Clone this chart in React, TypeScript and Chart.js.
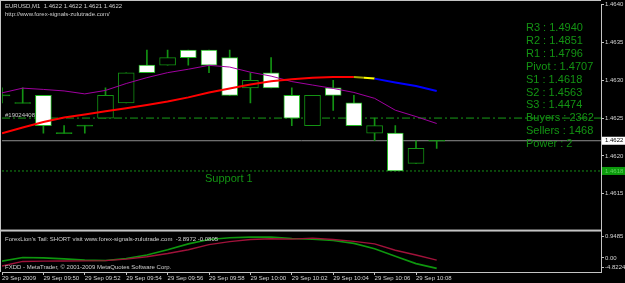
import React, { useEffect, useRef } from "react";
import { Chart, registerables } from "chart.js";

Chart.register(...registerables);

// ---------- data ----------
const symbolTitle = "EURUSD,M1";
const siteUrl = "http://www.forex-signals-zulutrade.com/";
const minuteIndex = [0, 1, 2, 3, 4, 5, 6, 7, 8, 9, 10, 11, 12, 13, 14, 15, 16, 17, 18, 19, 20, 21];
const timeTickIndex = [0, 2, 4, 6, 8, 10, 12, 14, 16, 18, 20];
const timeTickLabels = [
  "29 Sep 2009", "29 Sep 09:50", "29 Sep 09:52", "29 Sep 09:54", "29 Sep 09:56",
  "29 Sep 09:58", "29 Sep 10:00", "29 Sep 10:02", "29 Sep 10:04", "29 Sep 10:06", "29 Sep 10:08",
];

const opens = [1.4628, 1.4627, 1.4628, 1.4623, 1.4624, 1.4625, 1.4627, 1.4632, 1.4632, 1.4634, 1.4634,
  1.4633, 1.4629, 1.4631, 1.4628, 1.4624, 1.4629, 1.4627, 1.4623, 1.4623, 1.4619, 1.4622];
const highs = [1.4629, 1.4629, 1.4628, 1.4624, 1.4624, 1.4629, 1.4631, 1.4634, 1.4634, 1.4634, 1.4634,
  1.4634, 1.4631, 1.4633, 1.4629, 1.4628, 1.4630, 1.4628, 1.4625, 1.4624, 1.4622, 1.4622];
const lows = [1.4627, 1.4627, 1.4623, 1.4623, 1.4623, 1.4625, 1.4627, 1.4631, 1.4632, 1.4632, 1.4631,
  1.4628, 1.4627, 1.4629, 1.4624, 1.4624, 1.4626, 1.4624, 1.4622, 1.4618, 1.4619, 1.4621];
const closes = [1.4628, 1.4627, 1.4624, 1.4623, 1.4624, 1.4628, 1.4631, 1.4631, 1.4633, 1.4633, 1.4632,
  1.4628, 1.4630, 1.4629, 1.4625, 1.4628, 1.4628, 1.4624, 1.4624, 1.4618, 1.4621, 1.4622];

const maPurple = [1.462833, 1.462896, 1.462879, 1.462859, 1.46282, 1.462866, 1.462957, 1.463035, 1.463101,
  1.463146, 1.463198, 1.463175, 1.463107, 1.463055, 1.462983, 1.462937, 1.462892, 1.462839, 1.462761,
  1.462604, 1.46252, 1.462428];
const maTrend = [1.4623, 1.462375, 1.462448, 1.462507, 1.462546, 1.462589, 1.462631, 1.462674, 1.462718,
  1.462774, 1.462839, 1.462892, 1.462944, 1.462986, 1.463013, 1.463035, 1.463044, 1.463044, 1.463022,
  1.46297, 1.462924, 1.462859];

const tailFast = [-3.603, -2.929, -3.002, -3.184, -3.421, -3.475, -3.111, -2.456, -1.509, -0.417, 0.402,
  0.712, 0.821, 0.857, 0.584, 0.457, 0.22, -0.326, -1.327, -2.693, -4.058, -4.932];
const tailSlow = [-4.513, -3.657, -3.603, -3.566, -3.548, -3.512, -3.239, -2.783, -2.201, -1.509, -0.562,
  0.002, 0.402, 0.53, 0.457, 0.639, 0.402, 0.038, -0.417, -1.6, -2.474, -3.421];

const priceTicks = [1.4615, 1.462, 1.4625, 1.463, 1.4635, 1.464];
const subTicks = [0.9485, -3.0, -4.8224];
const subTickLabels = ["0.9485", "0.00", "-4.8224"];

const orderLevel = 1.4625;
const orderLabel = "#19024408";
const bidLevel = 1.4622;
const support1Level = 1.4618;
const support1Label = "Support 1";

const pivotLines = [
  "R3 : 1.4940", "R2 : 1.4851", "R1 : 1.4796", "Pivot : 1.4707", "S1 : 1.4618",
  "S2 : 1.4563", "S3 : 1.4474", "Buyers : 2362", "Sellers : 1468", "Power : 2",
];
const indicatorTitle = "ForexLion's Tail: SHORT visit www.forex-signals-zulutrade.com";
const indicatorValues = "-3.8972 -0.0805";
const footerText = "FXDD - MetaTrader, \u00a9 2001-2009 MetaQuotes Software Corp.";

// ---------- styling ----------
const X_MIN = 0;
const X_MAX = 28.937;
const MAIN_MIN = 1.4610117;
const MAIN_MAX = 1.4640013;
const SUB_MIN = -5.6053;
const SUB_MAX = 2.0408;
const FONT = '"Liberation Sans", Arial, sans-serif';
const GREEN = "#139313";
const FRAME = "#c4c4c4";
const LABEL = "#d4d4d4";

export default function App() {
  const canvasRef = useRef<HTMLCanvasElement | null>(null);

  useEffect(() => {
    const canvas = canvasRef.current;
    if (!canvas) return;

    const last = closes.length - 1;
    const header = `${symbolTitle}  ${opens[last].toFixed(4)} ${highs[last].toFixed(4)} ${lows[last].toFixed(4)} ${closes[last].toFixed(4)}`;

    const levelData = (v: number) => [{ x: X_MIN, y: v }, { x: X_MAX, y: v }];
    const eps = 0.0000066;

    const overlay = {
      id: "mt4overlay",
      afterDraw(chart: any) {
        const ctx = chart.ctx as CanvasRenderingContext2D;
        const ys = chart.scales.y;
        const area = chart.chartArea;
        ctx.save();
        // frame
        ctx.fillStyle = FRAME;
        ctx.fillRect(0, 0, area.right, 1);
        ctx.fillRect(0, 0, 1, area.bottom);
        ctx.fillRect(0, ys.bottom - 1, area.right, 2);

        // header texts
        ctx.textBaseline = "middle";
        ctx.textAlign = "left";
        ctx.font = `6px ${FONT}`;
        ctx.fillStyle = "#d0d0d0";
        ctx.fillText(header, 5, 6);
        ctx.fillText(siteUrl, 5, 14);

        // order label
        ctx.fillStyle = "#c8c8c8";
        ctx.fillText(orderLabel, 5, ys.getPixelForValue(orderLevel) - 3);

        // sub pane texts
        const sub = chart.scales.ySub;
        ctx.fillStyle = "#d0d0d0";
        ctx.fillText(`${indicatorTitle}  ${indicatorValues}`, 5, sub.top + 8.5);
        ctx.fillText(footerText, 5, sub.bottom - 5);

        // support text
        ctx.font = `11px ${FONT}`;
        ctx.fillStyle = GREEN;
        ctx.fillText(support1Label, 205, ys.getPixelForValue(support1Level) + 7.5);

        // pivot block
        pivotLines.forEach((t, k) => {
          ctx.fillText(t, 526, 28 + k * 12.9);
        });

        // price boxes on axis
        ctx.font = `6px ${FONT}`;
        const yb = ys.getPixelForValue(bidLevel);
        ctx.fillStyle = "#ffffff";
        ctx.fillRect(area.right + 1, yb - 4, 24, 8);
        ctx.fillStyle = "#000000";
        ctx.fillText(bidLevel.toFixed(4), area.right + 4, yb);
        const ysup = ys.getPixelForValue(support1Level);
        ctx.fillStyle = "#0c9a0c";
        ctx.fillRect(area.right + 1, ysup - 4, 24, 8);
        ctx.fillStyle = "#5ed45e";
        ctx.fillText(support1Level.toFixed(4), area.right + 4, ysup);
        ctx.restore();
      },
    };

    const chart = new Chart(canvas, {
      type: "bar",
      data: {
        datasets: [
          {
            type: "line",
            data: levelData(orderLevel),
            borderColor: "#179c17",
            borderWidth: 1,
            borderDash: [8, 3, 2, 3],
            pointRadius: 0,
            yAxisID: "y",
            order: 20,
          },
          {
            type: "line",
            data: levelData(bidLevel),
            borderColor: "#8e8e8e",
            borderWidth: 1,
            pointRadius: 0,
            yAxisID: "y",
            order: 20,
          },
          {
            type: "line",
            data: levelData(support1Level),
            borderColor: "#168c16",
            borderWidth: 1,
            borderDash: [2, 2],
            pointRadius: 0,
            yAxisID: "y",
            order: 20,
          },
          {
            type: "bar",
            data: minuteIndex
              .filter((i) => highs[i] > lows[i])
              .map((i) => ({ x: i, y: [lows[i], highs[i]] })),
            backgroundColor: GREEN,
            borderWidth: 0,
            barThickness: 1,
            grouped: false,
            yAxisID: "y",
            order: 10,
          } as any,
          {
            type: "bar",
            data: minuteIndex.map((i) => ({
              x: i,
              y: opens[i] === closes[i] ? [opens[i] - eps, opens[i] + eps] : [opens[i], closes[i]],
            })),
            backgroundColor: minuteIndex.map((i) =>
              closes[i] > opens[i] ? "#000000" : closes[i] < opens[i] ? "#ffffff" : GREEN
            ),
            borderColor: minuteIndex.map((i) => (closes[i] < opens[i] ? "#22b822" : GREEN)),
            borderWidth: 1,
            borderSkipped: false,
            barThickness: 16,
            grouped: false,
            yAxisID: "y",
            order: 9,
          } as any,
          {
            type: "line",
            data: minuteIndex.map((i) => ({ x: i, y: maPurple[i] })),
            borderColor: "#a000a0",
            borderWidth: 1,
            pointRadius: 0,
            yAxisID: "y",
            order: 2,
          },
          {
            type: "line",
            data: minuteIndex.map((i) => ({ x: i, y: maTrend[i] })),
            borderColor: "#ff0000",
            borderWidth: 2,
            pointRadius: 0,
            yAxisID: "y",
            order: 1,
            segment: {
              borderColor: (c: any) => {
                if (c.p0DataIndex < 17) return "#ff0000";
                if (c.p0DataIndex === 17) {
                  const g = c.chart.ctx.createLinearGradient(c.p0.x, 0, c.p1.x, 0);
                  g.addColorStop(0, "#a8a800");
                  g.addColorStop(0.5, "#a8a800");
                  g.addColorStop(0.5, "#ffff00");
                  g.addColorStop(1, "#ffff00");
                  return g;
                }
                return "#0000ff";
              },
            },
          } as any,
          {
            type: "line",
            data: minuteIndex.map((i) => ({ x: i, y: tailFast[i] })),
            borderColor: "#0e960e",
            borderWidth: 1.6,
            pointRadius: 0,
            yAxisID: "ySub",
            order: 3,
          },
          {
            type: "line",
            data: minuteIndex.map((i) => ({ x: i, y: tailSlow[i] })),
            borderColor: "#a0123a",
            borderWidth: 1.4,
            pointRadius: 0,
            yAxisID: "ySub",
            order: 2,
          },
        ] as any,
      },
      options: {
        responsive: false,
        animation: false,
        devicePixelRatio: 1,
        events: [],
        layout: { padding: { left: 2, top: 1, right: 0, bottom: 0 } },
        plugins: { legend: { display: false }, tooltip: { enabled: false } },
        scales: {
          x: {
            type: "linear",
            position: "bottom",
            min: X_MIN,
            max: X_MAX,
            offset: false,
            grid: { display: true, drawOnChartArea: false, tickLength: 3, color: FRAME, offset: false },
            border: { display: true, color: FRAME, width: 1 },
            ticks: {
              color: LABEL,
              font: { size: 6, family: "Liberation Sans" },
              align: "start",
              maxRotation: 0,
              autoSkip: false,
              padding: 0,
              callback: (_v: any, idx: number) => timeTickLabels[idx],
            },
            afterBuildTicks: (s: any) => {
              s.ticks = timeTickIndex.map((v) => ({ value: v }));
            },
            afterFit: (s: any) => {
              s.height = 11;
            },
          },
          y: {
            type: "linear",
            position: "right",
            stack: "panes",
            stackWeight: 229,
            min: MAIN_MIN,
            max: MAIN_MAX,
            grid: { display: true, drawOnChartArea: false, tickLength: 3, color: FRAME },
            border: { display: true, color: FRAME, width: 1 },
            ticks: {
              color: LABEL,
              font: { size: 6, family: "Liberation Sans" },
              padding: 1,
              autoSkip: false,
              callback: (v: any) => Number(v).toFixed(4),
            },
            afterBuildTicks: (s: any) => {
              s.ticks = priceTicks.map((v) => ({ value: v }));
            },
            afterFit: (s: any) => {
              s.width = 24;
            },
          },
          ySub: {
            type: "linear",
            position: "right",
            stack: "panes",
            stackWeight: 42,
            min: SUB_MIN,
            max: SUB_MAX,
            grid: { display: true, drawOnChartArea: false, tickLength: 3, color: FRAME },
            border: { display: true, color: FRAME, width: 1 },
            ticks: {
              color: LABEL,
              font: { size: 6, family: "Liberation Sans" },
              padding: 1,
              autoSkip: false,
              callback: (_v: any, idx: number) => subTickLabels[idx],
            },
            afterBuildTicks: (s: any) => {
              s.ticks = subTicks.map((v) => ({ value: v }));
            },
            afterFit: (s: any) => {
              s.width = 24;
            },
          },
        } as any,
      },
      plugins: [overlay],
    });

    return () => chart.destroy();
  }, []);

  return (
    <div style={{ position: "absolute", left: 0, top: 0, width: 625, height: 283, background: "#000" }}>
      <canvas ref={canvasRef} width={625} height={283} style={{ display: "block" }} />
    </div>
  );
}
